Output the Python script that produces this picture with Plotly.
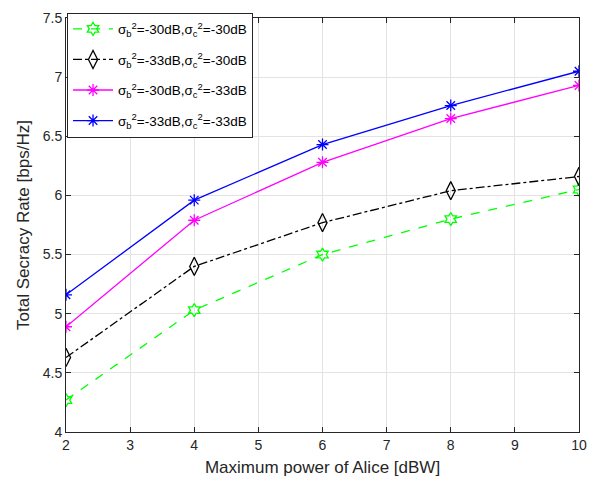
import plotly.graph_objects as go

power = [2, 4, 6, 8, 10]
rate_b30_c30 = [4.27, 5.03, 5.50, 5.80, 6.05]
rate_b33_c30 = [4.63, 5.40, 5.77, 6.04, 6.16]
rate_b30_c33 = [4.89, 5.79, 6.28, 6.65, 6.93]
rate_b33_c33 = [5.16, 5.96, 6.43, 6.76, 7.05]

names = [
    "σ<sub>b</sub><sup>2</sup>=-30dB,σ<sub>c</sub><sup>2</sup>=-30dB",
    "σ<sub>b</sub><sup>2</sup>=-33dB,σ<sub>c</sub><sup>2</sup>=-30dB",
    "σ<sub>b</sub><sup>2</sup>=-30dB,σ<sub>c</sub><sup>2</sup>=-33dB",
    "σ<sub>b</sub><sup>2</sup>=-33dB,σ<sub>c</sub><sup>2</sup>=-33dB",
]
series = [rate_b30_c30, rate_b33_c30, rate_b30_c33, rate_b33_c33]
colors = ["#00FF00", "#000000", "#FF00FF", "#0000FF"]
dashes = ["dash", "dashdot", "solid", "solid"]
symbols = ["hexagram-open", "diamond-tall-open", "asterisk-open", "asterisk-open"]
sizes = [10, 13, 10, 10]

FONT = "Liberation Sans, Arial"

fig = go.Figure()
for i, (n, s, c, d, m, sz) in enumerate(zip(names, series, colors, dashes, symbols, sizes)):
    fig.add_trace(go.Scatter(
        x=power, y=s, name=n, mode="lines+markers", legendgroup=f"g{i}",
        line=dict(color=c, dash=d, width=1.3),
        marker=dict(symbol=m, size=sz, color=c, line=dict(color=c, width=1.3)),
    ))

axis_common = dict(
    showline=True, linecolor="#262626", linewidth=1, mirror="ticks",
    ticks="inside", ticklen=5, tickcolor="#262626",
    showgrid=True, gridcolor="#E3E3E3", gridwidth=1, zeroline=False,
    tickfont=dict(family=FONT, size=14, color="#262626"),
)

fig.update_xaxes(range=[2, 10], dtick=1, tick0=2,
                 title=dict(text="Maximum power of Alice [dBW]", standoff=9,
                            font=dict(family=FONT, size=17, color="#262626")),
                 **axis_common)
fig.update_yaxes(range=[4, 7.5], dtick=0.5, tick0=4,
                 title=dict(text="Total Secracy Rate [bps/Hz]", standoff=8,
                            font=dict(family=FONT, size=17, color="#262626")),
                 **axis_common)

fig.update_layout(
    width=598, height=489,
    margin=dict(l=66, r=19, t=10, b=57),
    plot_bgcolor="white", paper_bgcolor="white",
    legend=dict(x=0.002, y=1.013, xanchor="left", yanchor="top",
                bgcolor="white", bordercolor="#262626", borderwidth=1,
                font=dict(family=FONT, size=13.5, color="#000000"),
                tracegroupgap=10, itemwidth=40),
    showlegend=True,
)

fig.write_html("out.html", config={"displayModeBar": False},
               post_script="document.body.style.margin='0';document.body.style.padding='0';")
